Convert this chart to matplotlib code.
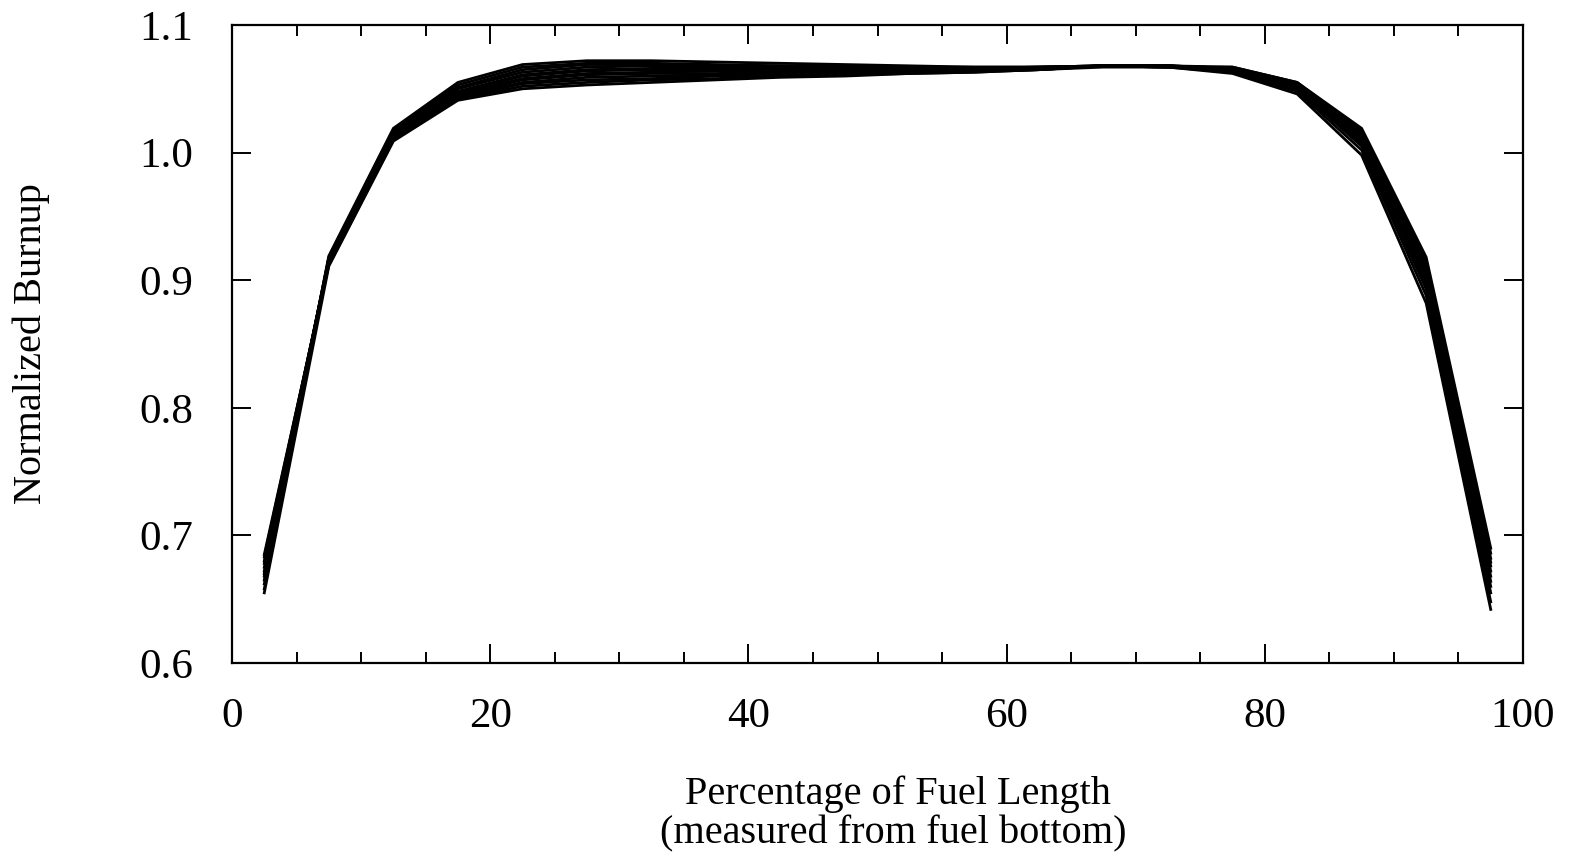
import numpy as np
import matplotlib
matplotlib.use('Agg')
import matplotlib.pyplot as plt
from matplotlib.ticker import MultipleLocator

plt.rcParams['font.family'] = ['Liberation Serif', 'DejaVu Serif']

# axial node centres, percent of fuel length from the bottom
position = [2.5, 7.5, 12.5, 17.5, 22.5, 27.5, 32.5, 37.5, 42.5, 47.5,
            52.5, 57.5, 62.5, 67.5, 72.5, 77.5, 82.5, 87.5, 92.5, 97.5]

# normalized axial burnup profiles, one list per assembly
profile_a = [0.662, 0.919, 1.019, 1.055, 1.069, 1.072, 1.072, 1.071, 1.070, 1.069,
             1.068, 1.067, 1.067, 1.068, 1.067, 1.062, 1.046, 0.998, 0.882, 0.642]
profile_b = [0.658, 0.917, 1.018, 1.053, 1.067, 1.070, 1.070, 1.069, 1.068, 1.068,
             1.067, 1.067, 1.067, 1.068, 1.067, 1.063, 1.048, 1.002, 0.888, 0.648]
profile_c = [0.665, 0.918, 1.017, 1.051, 1.065, 1.069, 1.069, 1.068, 1.068, 1.067,
             1.067, 1.066, 1.067, 1.068, 1.068, 1.064, 1.050, 1.005, 0.893, 0.655]
profile_d = [0.668, 0.916, 1.016, 1.050, 1.063, 1.067, 1.068, 1.067, 1.067, 1.067,
             1.066, 1.066, 1.067, 1.068, 1.068, 1.064, 1.050, 1.007, 0.897, 0.660]
profile_e = [0.672, 0.917, 1.015, 1.048, 1.061, 1.065, 1.066, 1.066, 1.066, 1.066,
             1.066, 1.066, 1.066, 1.068, 1.067, 1.065, 1.051, 1.008, 0.900, 0.664]
profile_f = [0.670, 0.915, 1.014, 1.047, 1.060, 1.064, 1.065, 1.065, 1.065, 1.065,
             1.065, 1.065, 1.066, 1.068, 1.068, 1.065, 1.052, 1.010, 0.903, 0.668]
profile_g = [0.675, 0.916, 1.013, 1.046, 1.058, 1.062, 1.063, 1.064, 1.064, 1.064,
             1.064, 1.065, 1.066, 1.068, 1.068, 1.066, 1.052, 1.011, 0.906, 0.672]
profile_h = [0.678, 0.914, 1.012, 1.045, 1.057, 1.061, 1.062, 1.062, 1.063, 1.063,
             1.064, 1.064, 1.066, 1.068, 1.067, 1.066, 1.053, 1.013, 0.909, 0.676]
profile_i = [0.680, 0.915, 1.011, 1.044, 1.055, 1.059, 1.060, 1.061, 1.062, 1.063,
             1.063, 1.064, 1.065, 1.068, 1.068, 1.066, 1.053, 1.014, 0.911, 0.679]
profile_j = [0.683, 0.913, 1.011, 1.043, 1.054, 1.057, 1.058, 1.060, 1.061, 1.062,
             1.063, 1.064, 1.065, 1.068, 1.068, 1.066, 1.054, 1.015, 0.913, 0.682]
profile_k = [0.685, 0.912, 1.010, 1.042, 1.052, 1.055, 1.057, 1.058, 1.060, 1.061,
             1.062, 1.063, 1.065, 1.067, 1.067, 1.067, 1.055, 1.017, 0.915, 0.686]
profile_l = [0.655, 0.911, 1.009, 1.041, 1.050, 1.053, 1.055, 1.057, 1.059, 1.060,
             1.062, 1.063, 1.065, 1.068, 1.068, 1.067, 1.055, 1.019, 0.918, 0.690]

profiles = [profile_a, profile_b, profile_c, profile_d, profile_e, profile_f,
            profile_g, profile_h, profile_i, profile_j, profile_k, profile_l]

fig = plt.figure(figsize=(15.7, 8.58), dpi=100)
ax = fig.add_axes([232 / 1570, 1 - 663 / 858, (1523 - 232) / 1570, (663 - 25) / 858])

for p in profiles:
    ax.plot(position, p, color='black', lw=2.0, solid_joinstyle='miter')

ax.set_xlim(0, 100)
ax.set_ylim(0.6, 1.1)
ax.xaxis.set_major_locator(MultipleLocator(20))
ax.xaxis.set_minor_locator(MultipleLocator(5))
ax.yaxis.set_major_locator(MultipleLocator(0.1))
ax.yaxis.set_major_formatter(matplotlib.ticker.FormatStrFormatter('%.1f'))

ax.tick_params(which='both', direction='in', top=True, right=True, width=1.4, labelsize=31)
ax.tick_params(axis='x', which='major', length=14, pad=25)
ax.tick_params(axis='x', which='minor', length=8)
ax.tick_params(axis='y', which='major', length=14, pad=28)
for s in ax.spines.values():
    s.set_linewidth(1.6)

ax.set_ylabel('Normalized Burnup', fontsize=29)
ax.yaxis.set_label_coords(-0.141, 0.5)
fig.text(898 / 1570, 1 - 794 / 858, 'Percentage of Fuel Length', fontsize=29,
         ha='center', va='center')
fig.text(893 / 1570, 1 - 834 / 858, '(measured from fuel bottom)', fontsize=29,
         ha='center', va='center')

fig.savefig('out.png', dpi=100)
